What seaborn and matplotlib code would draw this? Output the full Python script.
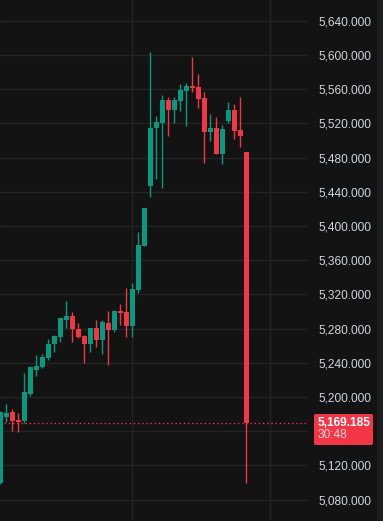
import numpy as np
import pandas as pd
import matplotlib
matplotlib.use("Agg")
import matplotlib.pyplot as plt
from matplotlib.patches import FancyBboxPatch, Rectangle
import seaborn as sns

# ---- data ----
opens = [5099.6, 5176.5, 5182.7, 5173.0, 5171.8, 5203.4, 5231.5, 5234.6, 5245.1, 5261.9,
         5269.7, 5289.9, 5294.6, 5279.4, 5271.6, 5261.9, 5280.2, 5266.5, 5286.8, 5278.2,
         5300.5, 5298.9, 5282.9, 5325.0, 5376.8, 5446.7, 5514.2, 5520.7, 5547.3, 5535.6,
         5546.1, 5558.1, 5563.6, 5562.8, 5549.9, 5510.2, 5514.9, 5484.1, 5522.7, 5535.6,
         5512.2, 5486.8]
highs = [5184.0, 5191.7, 5185.8, 5180.8, 5227.6, 5236.0, 5249.0, 5250.2, 5267.7, 5272.4,
         5293.8, 5312.5, 5298.9, 5286.8, 5272.0, 5280.5, 5289.9, 5289.9, 5300.8, 5302.0,
         5308.7, 5327.0, 5333.6, 5393.2, 5421.3, 5603.7, 5528.5, 5553.1, 5550.4, 5551.1,
         5566.0, 5566.8, 5597.2, 5577.7, 5556.3, 5530.9, 5527.0, 5518.0, 5545.3, 5542.2,
         5551.1, 5486.8]
lows = [5098.0, 5170.6, 5160.1, 5158.4, 5169.0, 5201.0, 5225.0, 5233.8, 5243.0, 5252.9,
        5264.6, 5280.9, 5263.9, 5269.0, 5240.0, 5252.9, 5258.7, 5250.2, 5237.3, 5276.3,
        5284.1, 5269.7, 5269.7, 5321.2, 5376.0, 5433.5, 5454.5, 5444.0, 5505.1, 5520.7,
        5534.7, 5516.8, 5557.0, 5537.5, 5473.9, 5499.6, 5484.1, 5472.4, 5520.0, 5501.3,
        5491.9, 5099.0]
closes = [5182.7, 5181.2, 5171.8, 5171.2, 5205.7, 5234.6, 5236.2, 5246.3, 5261.9, 5271.2,
          5292.6, 5294.6, 5279.1, 5270.4, 5261.9, 5280.2, 5266.5, 5288.0, 5278.2, 5300.8,
          5297.8, 5282.9, 5325.8, 5377.7, 5420.6, 5514.9, 5521.9, 5547.3, 5535.6, 5547.3,
          5558.9, 5563.6, 5561.3, 5548.4, 5510.2, 5514.9, 5484.1, 5513.0, 5535.6, 5511.3,
          5505.1, 5169.185]
last_price = 5169.185
countdown = "30:48"
price_ticks = [5080, 5120, 5160, 5200, 5240, 5280, 5320, 5360, 5400, 5440, 5480, 5520, 5560, 5600, 5640]
hidden_ticks = [5160]

df = pd.DataFrame({"open": opens, "high": highs, "low": lows, "close": closes})
df["idx"] = np.arange(len(df))
df["up"] = df["close"] >= df["open"]

BG = "#131313"
GRID = "#242424"
GREEN = "#089981"
RED = "#f23645"
TXT = "#d1d4dc"

sns.set_theme(style="dark", rc={
    "axes.facecolor": BG, "figure.facecolor": BG,
    "axes.edgecolor": BG, "grid.color": GRID,
})
plt.rcParams["font.family"] = ["Liberation Sans", "DejaVu Sans"]

W, H = 383, 521
fig = plt.figure(figsize=(W / 100, H / 100), dpi=100)
ax = fig.add_axes([0, 0, 308 / W, 1])
ax.set_facecolor(BG)

colors = np.where(df["up"], GREEN, RED)

# wicks
ax.vlines(df["idx"], df["low"], df["high"], colors=colors, linewidth=1.0, zorder=2)
# bodies
body_low = np.minimum(df["open"], df["close"])
body_h = np.maximum(np.abs(df["close"] - df["open"]), 1.3)
ax.bar(df["idx"], body_h, bottom=body_low, width=0.82, color=colors, linewidth=0, zorder=3)

# last price dotted line
ax.axhline(last_price, color=RED, linewidth=1.0, linestyle=(0, (1, 2)), zorder=1)

# limits in data units
ax.set_xlim(-0.083, 51.25)
ax.set_ylim(5054.9, 5664.2)

# grid
ax.set_xticks([22, 44.9])
ax.set_xticklabels([])
ax.set_yticks(price_ticks)
ax.set_yticklabels(["" if t in hidden_ticks else f"{t:,.3f}" for t in price_ticks])
ax.yaxis.tick_right()
ax.tick_params(axis="y", length=0, pad=7.3, labelsize=8.6, labelcolor=TXT)
ax.tick_params(axis="x", length=0)
ax.grid(True, color=GRID, linewidth=1.0)
ax.set_axisbelow(True)
for s in ax.spines.values():
    s.set_visible(False)

# right edge strip
fig.add_artist(Rectangle((377 / W, 0), 6 / W, 1, transform=fig.transFigure,
                         facecolor="#1d1d1d", edgecolor="none"))

# last price label box
bx0, bx1, by0, by1 = 314, 373, 414, 445
fig.add_artist(FancyBboxPatch((bx0 / W, 1 - by1 / H), (bx1 - bx0) / W, (by1 - by0) / H,
                              boxstyle="round,pad=0,rounding_size=0.004",
                              transform=fig.transFigure, facecolor=RED, edgecolor="none"))
fig.text(318 / W, 1 - 423 / H, f"{last_price:,.3f}", color="white", fontsize=8.6,
         fontweight="bold", ha="left", va="center")
fig.text(318 / W, 1 - 435.5 / H, countdown, color="#fbd3d7", fontsize=8.6,
         ha="left", va="center")

fig.savefig("out.png", dpi=100, facecolor=BG)
